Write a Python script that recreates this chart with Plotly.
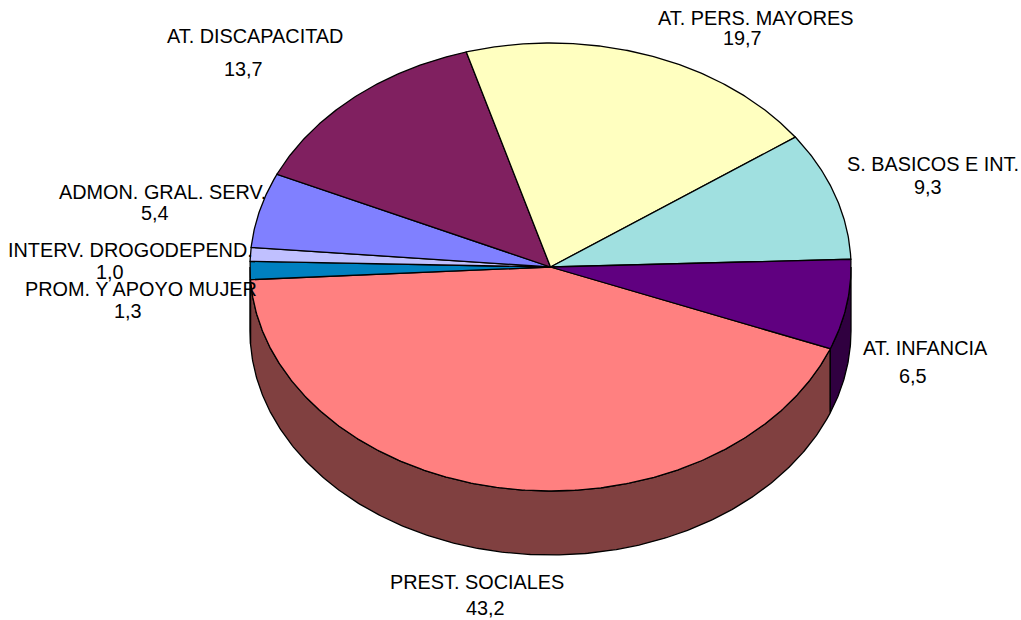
import numpy as np
import plotly.graph_objects as go

# Data (clockwise from the PREST. SOCIALES start edge)
categories = ["PREST. SOCIALES", "PROM. Y APOYO MUJER", "INTERV. DROGODEPEND.", "ADMON. GRAL. SERV.",
              "AT. DISCAPACITAD", "AT. PERS. MAYORES", "S. BASICOS E INT.", "AT. INFANCIA"]
values = [43.2, 1.3, 1.0, 5.4, 13.7, 19.7, 9.3, 6.5]
value_labels = ["43,2", "1,3", "1,0", "5,4", "13,7", "19,7", "9,3", "6,5"]

# Styles
top_colors = ["#FF8080", "#0080C0", "#C0C0FF", "#8080FF", "#802060", "#FFFFC0", "#A0E0E0", "#600080"]
side_colors = ["#804040", "#004060", "#606080", "#404080", "#401030", "#808060", "#507070", "#300040"]

# Layout (pixel-based)
W, H = 1021, 620
CX, CY, RX, RY, DEPTH = 550.5, 267.0, 300.5, 224.0, 64.0
START_DEG = 21.4
name_pos = [(477, 582), (141, 289), (130, 250), (162, 192), (255, 36), (756, 18), (933, 164), (925, 348)]
value_pos = [(485, 608), (128, 311), (110, 272), (155, 213), (243, 69), (742, 38), (928, 187), (913, 376)]
FONT = "Liberation Sans, Arial, sans-serif"
FONT_SIZE = 19.85


def arc(a0, a1, dy=0.0):
    n = max(2, int(abs(a1 - a0)) * 2 + 2)
    t = np.radians(np.linspace(a0, a1, n))
    return CX + RX * np.cos(t), CY + dy + RY * np.sin(t)


fig = go.Figure()
edges = START_DEG + np.concatenate([[0], np.cumsum(values)]) * 360.0 / sum(values)

# Side walls: only the front half of the rim (0..180 deg, y pointing down)
for i in range(len(values)):
    a0, a1 = edges[i], edges[i + 1]
    for shift in (0, -360):
        lo, hi = max(a0 + shift, 0), min(a1 + shift, 180)
        if hi <= lo:
            continue
        xt, yt = arc(lo, hi)
        xb, yb = arc(hi, lo, DEPTH)
        fig.add_trace(go.Scatter(
            x=np.r_[xt, xb, xt[0]], y=np.r_[yt, yb, yt[0]], mode="lines", fill="toself",
            fillcolor=side_colors[i], line=dict(color="black", width=1.3),
            hoverinfo="skip", showlegend=False))

# Top faces
for i in range(len(values)):
    xa, ya = arc(edges[i], edges[i + 1])
    fig.add_trace(go.Scatter(
        x=np.r_[CX, xa, CX], y=np.r_[CY, ya, CY], mode="lines", fill="toself",
        fillcolor=top_colors[i], line=dict(color="black", width=1.3),
        name=categories[i], hoverinfo="name", showlegend=False))

# Labels
for name, val, np_, vp in zip(categories, value_labels, name_pos, value_pos):
    for txt, (x, y) in ((name, np_), (val, vp)):
        fig.add_annotation(x=x, y=y, text=txt, showarrow=False, xanchor="center", yanchor="middle",
                           font=dict(family=FONT, size=FONT_SIZE, color="black"))

fig.update_layout(
    width=W, height=H, margin=dict(l=0, r=0, t=0, b=0),
    paper_bgcolor="white", plot_bgcolor="white",
    xaxis=dict(range=[0, W], visible=False, fixedrange=True),
    yaxis=dict(range=[H, 0], visible=False, fixedrange=True),
)
fig.write_html("out.html", config={"displayModeBar": False},
               post_script="document.body.style.margin='0';document.body.style.overflow='hidden';")
